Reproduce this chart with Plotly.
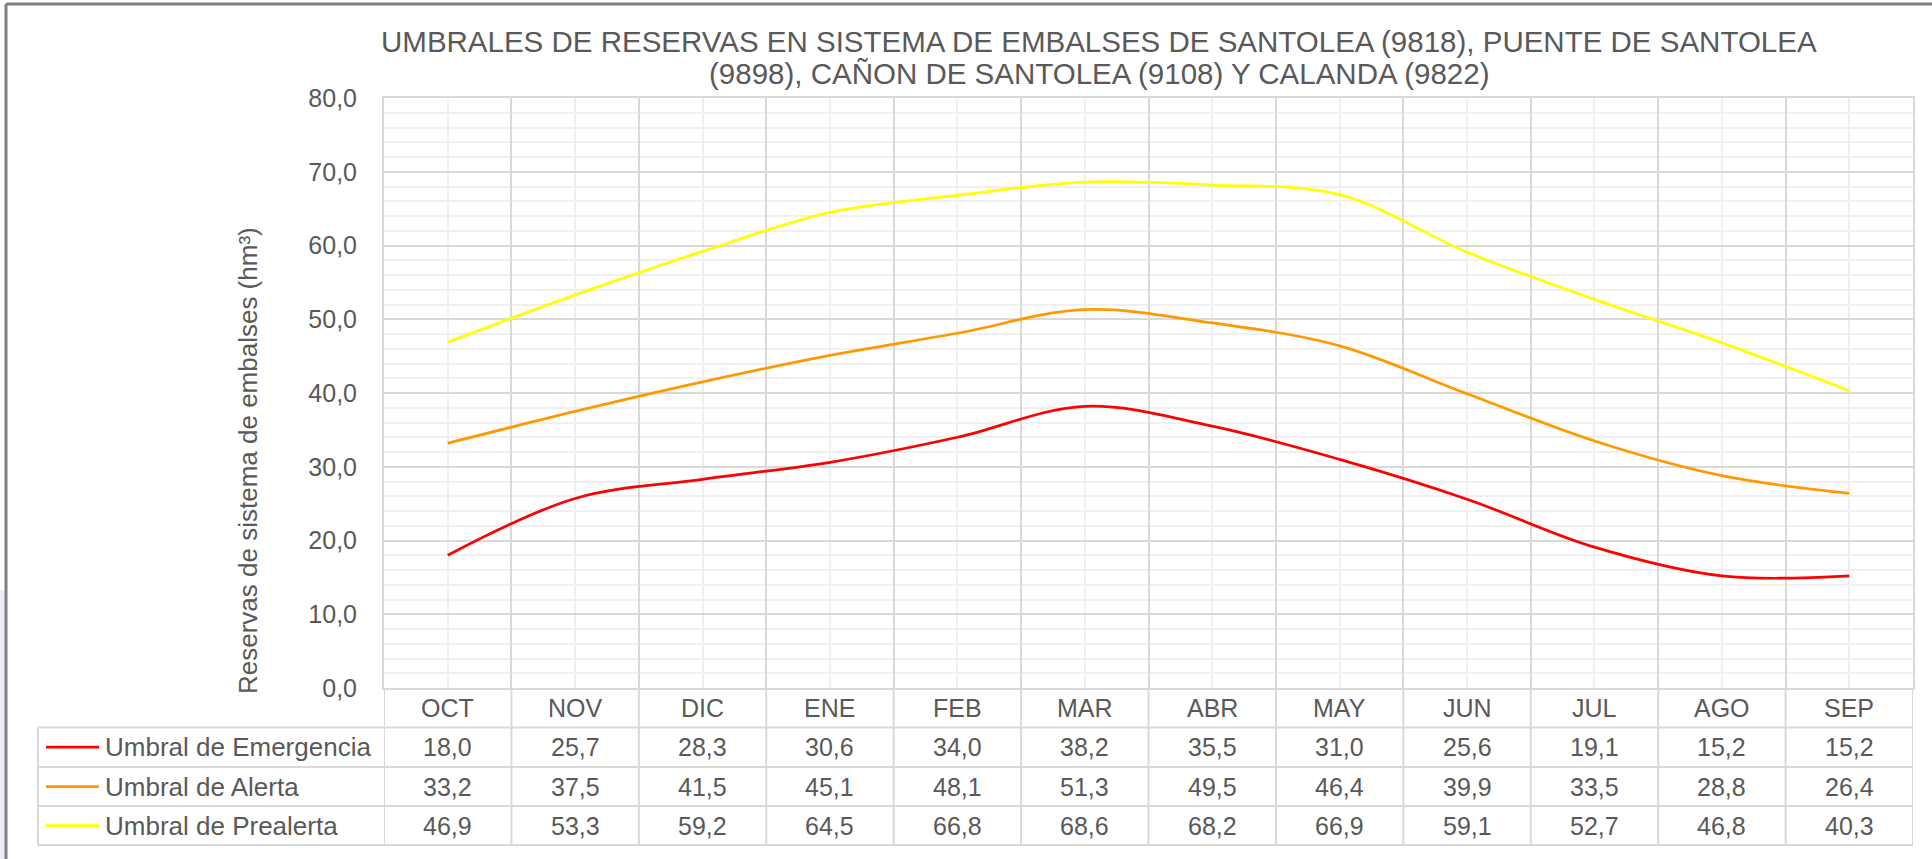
import numpy as np
import plotly.graph_objects as go

# ---------------- data ----------------
months = ["OCT", "NOV", "DIC", "ENE", "FEB", "MAR", "ABR", "MAY", "JUN", "JUL", "AGO", "SEP"]
emergencia = [18.0, 25.7, 28.3, 30.6, 34.0, 38.2, 35.5, 31.0, 25.6, 19.1, 15.2, 15.2]
alerta = [33.2, 37.5, 41.5, 45.1, 48.1, 51.3, 49.5, 46.4, 39.9, 33.5, 28.8, 26.4]
prealerta = [46.9, 53.3, 59.2, 64.5, 66.8, 68.6, 68.2, 66.9, 59.1, 52.7, 46.8, 40.3]
series_names = ["Umbral de Emergencia", "Umbral de Alerta", "Umbral de Prealerta"]
series_colors = ["#FF0000", "#FF9900", "#FFFF00"]
y_ticks = [0, 10, 20, 30, 40, 50, 60, 70, 80]

title_l1 = "UMBRALES DE RESERVAS EN SISTEMA DE EMBALSES DE SANTOLEA (9818), PUENTE DE SANTOLEA"
title_l2 = "(9898), CAÑON DE SANTOLEA (9108) Y CALANDA (9822)"
y_title = "Reservas de sistema de embalses (hm³)"

# ---------------- layout geometry (pixels) ----------------
W, H = 1932, 859
L, R, T, B = 384, 1913, 98, 688
PW, PH = R - L, B - T
FONT = "Liberation Sans, Arial, sans-serif"
TXT = "#595959"
GRID = "#d9d9d9"
MINOR = "#f0f0f0"


def pxx(x):
    return (x - L) / PW


def pxy(y):
    return (B - y) / PH


def fmt(v):
    return f"{v:.1f}".replace(".", ",")


x = np.arange(len(months))
bounds = np.append(x - 0.5, x[-1] + 0.5)
all_series = [emergencia, alerta, prealerta]

fig = go.Figure()
for name, vals, col in zip(series_names, all_series, series_colors):
    fig.add_trace(go.Scatter(
        x=x, y=vals, name=name, mode="lines",
        line=dict(color=col, width=2.75, shape="spline", smoothing=1.0),
        hoverinfo="skip",
    ))

fig.update_xaxes(
    range=[bounds[0], bounds[-1]],
    tickmode="array", tickvals=bounds, showticklabels=False, ticks="",
    showgrid=True, gridcolor=GRID, gridwidth=2,
    minor=dict(tickmode="array", tickvals=x, showgrid=True, gridcolor=MINOR, gridwidth=2, ticks=""),
    showline=True, mirror=True, linecolor=GRID, linewidth=2, zeroline=False,
)
fig.update_yaxes(
    range=[0, 80], tickmode="array", tickvals=y_ticks, tickformat=".1f",
    ticks="", ticklabelstandoff=20,
    tickfont=dict(family=FONT, size=25, color=TXT),
    showgrid=True, gridcolor=GRID, gridwidth=2,
    minor=dict(tick0=0, dtick=2, showgrid=True, gridcolor=MINOR, gridwidth=2, ticks=""),
    showline=True, mirror=True, linecolor=GRID, linewidth=2, zeroline=False,
)

shapes = []
annotations = []

# table geometry
header_c = 708
row_lines = [727.5, 767, 806, 845]
row_centers = [747, 786.5, 825.5]
table_left = 38

# vertical lines of the data table (column boundaries)
for bx in bounds:
    shapes.append(dict(type="line", xref="x", yref="paper", x0=bx, x1=bx,
                       y0=pxy(B), y1=pxy(845), line=dict(color=GRID, width=2)))
# table left border
shapes.append(dict(type="line", xref="paper", yref="paper", x0=pxx(table_left), x1=pxx(table_left),
                   y0=pxy(row_lines[0]), y1=pxy(845), line=dict(color=GRID, width=2)))
# horizontal table lines
for ry in row_lines:
    shapes.append(dict(type="line", xref="paper", yref="paper", x0=pxx(table_left), x1=1,
                       y0=pxy(ry), y1=pxy(ry), line=dict(color=GRID, width=2)))

# month header
for xi, m in zip(x, months):
    annotations.append(dict(xref="x", yref="paper", x=xi, y=pxy(header_c), text=m, showarrow=False,
                            xanchor="center", yanchor="middle",
                            font=dict(family=FONT, size=25, color=TXT)))

# table rows: legend keys, labels, values
for name, vals, col, rc in zip(series_names, all_series, series_colors, row_centers):
    shapes.append(dict(type="line", xref="paper", yref="paper", x0=pxx(46), x1=pxx(99),
                       y0=pxy(rc), y1=pxy(rc), line=dict(color=col, width=2.75)))
    annotations.append(dict(xref="paper", yref="paper", x=pxx(103), y=pxy(rc), text=name,
                            showarrow=False, xanchor="left", yanchor="middle",
                            font=dict(family=FONT, size=26, color=TXT)))
    for xi, v in zip(x, vals):
        annotations.append(dict(xref="x", yref="paper", x=xi, y=pxy(rc), text=fmt(v),
                                showarrow=False, xanchor="center", yanchor="middle",
                                font=dict(family=FONT, size=25, color=TXT)))

# title
annotations.append(dict(xref="paper", yref="paper", x=pxx(1099), y=pxy(41), text=title_l1,
                        showarrow=False, xanchor="center", yanchor="middle",
                        font=dict(family=FONT, size=29.5, color=TXT)))
annotations.append(dict(xref="paper", yref="paper", x=pxx(1099), y=pxy(74), text=title_l2,
                        showarrow=False, xanchor="center", yanchor="middle",
                        font=dict(family=FONT, size=29.5, color=TXT)))
# y axis title
annotations.append(dict(xref="paper", yref="paper", x=pxx(248), y=pxy(461), text=y_title,
                        showarrow=False, textangle=-90, xanchor="center", yanchor="middle",
                        font=dict(family=FONT, size=26, color=TXT)))

# outer frame (top and left edges visible)
shapes.append(dict(type="rect", xref="paper", yref="paper", x0=pxx(0), x1=pxx(5),
                   y0=pxy(590), y1=pxy(H), fillcolor="#e9eef5", line=dict(width=0), layer="below"))
shapes.append(dict(type="line", xref="paper", yref="paper", x0=pxx(6), x1=pxx(W),
                   y0=pxy(4), y1=pxy(4), line=dict(color="#808080", width=3)))
shapes.append(dict(type="line", xref="paper", yref="paper", x0=pxx(6), x1=pxx(6),
                   y0=pxy(4), y1=pxy(H), line=dict(color="#808080", width=3)))

fig.update_layout(
    width=W, height=H,
    margin=dict(l=L, r=W - R, t=T, b=H - B, autoexpand=False),
    paper_bgcolor="white", plot_bgcolor="white",
    separators=",.", showlegend=False,
    font=dict(family=FONT, color=TXT, size=24),
    shapes=shapes, annotations=annotations,
)

fig.write_html("out.html", config={"displayModeBar": False},
               post_script="document.body.style.margin='0';document.body.style.overflow='hidden';")
